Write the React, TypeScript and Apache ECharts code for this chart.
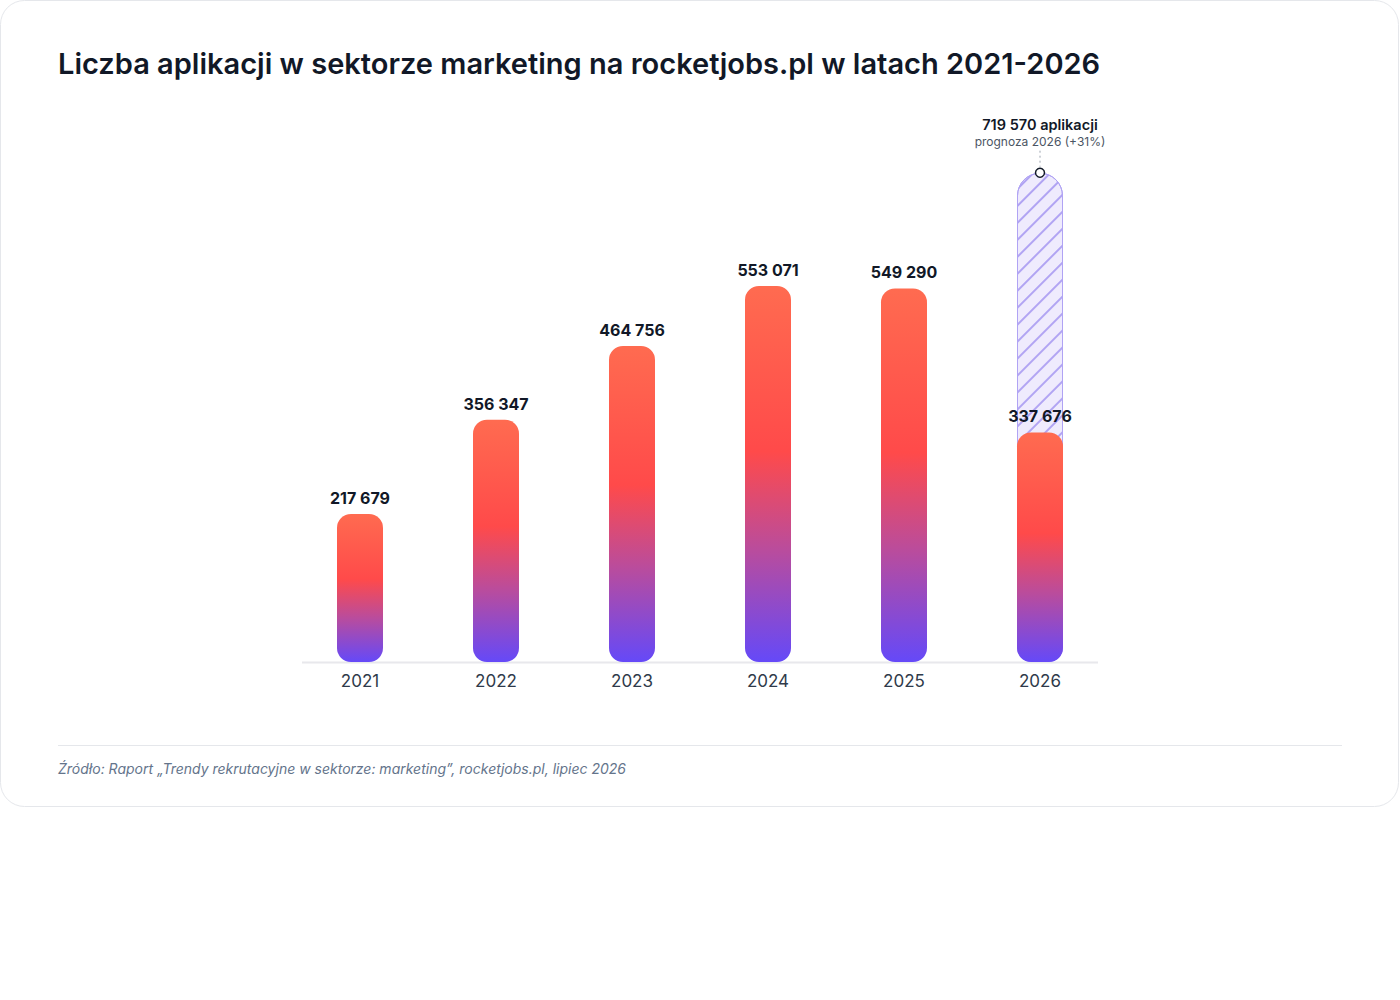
import React, { useEffect, useRef } from "react";
import * as echarts from "echarts";

const years = ["2021", "2022", "2023", "2024", "2025", "2026"];
const applications = [217679, 356347, 464756, 553071, 549290, 337676];
const forecast = [null, null, null, null, null, 719570];
const forecastIndex = 5;
const forecastValue = 719570;
const forecastLabel = "719 570 aplikacji";
const forecastNote = "prognoza 2026 (+31%)";
const titleText = "Liczba aplikacji w sektorze marketing na rocketjobs.pl w latach 2021-2026";
const sourceText =
  "Źródło: Raport „Trendy rekrutacyjne w sektorze: marketing”, rocketjobs.pl, lipiec 2026";

const FONT = "Inter, 'Noto Sans', sans-serif";

const fmt = (v: number) => String(v).replace(/\B(?=(\d{3})+(?!\d))/g, " ");

export default function App() {
  const ref = useRef<HTMLDivElement>(null);

  useEffect(() => {
    if (!ref.current) return;
    const chart = echarts.init(ref.current, undefined, { renderer: "svg" });

    const barGradient = new echarts.graphic.LinearGradient(0, 0, 0, 1, [
      { offset: 0, color: "#FF6B50" },
      { offset: 0.44, color: "#FF4A4A" },
      { offset: 0.7, color: "#BA4C9C" },
      { offset: 1, color: "#6549F8" },
    ]);

    chart.setOption({
      animation: false,
      grid: { left: 292, right: 292, top: 118, bottom: 338, containLabel: false },
      xAxis: {
        type: "category",
        data: years,
        axisLine: { show: false },
        axisTick: { show: false },
        axisLabel: {
          fontSize: 17,
          color: "#2F3A4A",
          fontFamily: FONT,
          margin: 10,
        },
      },
      yAxis: {
        type: "value",
        min: 0,
        max: 800000,
        show: false,
        splitLine: { show: false },
      },
      series: [
        {
          type: "bar",
          data: forecast,
          barWidth: 46,
          barGap: "-100%",
          z: 1,
          itemStyle: {
            color: "#EFEBFD",
            borderColor: "#B0A3F4",
            borderWidth: 1,
            borderRadius: [23, 23, 14, 14],
            decal: {
              symbol: "rect",
              symbolSize: 1,
              color: "#B1A4F3",
              dashArrayX: [1, 0],
              dashArrayY: [1.2, 9.5],
              rotation: -Math.PI / 4,
            },
          },
          silent: true,
        },
        {
          type: "bar",
          data: applications,
          barWidth: 46,
          barGap: "-100%",
          z: 3,
          itemStyle: {
            color: barGradient,
            borderRadius: 14,
          },
          label: {
            show: true,
            position: "top",
            distance: 8,
            fontSize: 16,
            fontWeight: 700,
            fontFamily: FONT,
            color: "#111827",
            formatter: (p: any) => fmt(p.value),
          },
        },
        {
          type: "scatter",
          data: forecast,
          symbol: "circle",
          symbolSize: 9,
          z: 5,
          itemStyle: {
            color: "#ffffff",
            borderColor: "#111827",
            borderWidth: 1.5,
            opacity: 1,
          },
        },
      ],
    });

    const [fx, fy] = chart.convertToPixel({ xAxisIndex: 0, yAxisIndex: 0 }, [
      years[forecastIndex],
      forecastValue,
    ]) as number[];
    const [x0, y0] = chart.convertToPixel({ xAxisIndex: 0, yAxisIndex: 0 }, [
      years[0],
      0,
    ]) as number[];
    const [x5] = chart.convertToPixel({ xAxisIndex: 0, yAxisIndex: 0 }, [
      years[years.length - 1],
      0,
    ]) as number[];

    chart.setOption({
      graphic: [
        {
          type: "rect",
          id: "card",
          z: -10,
          silent: true,
          shape: { x: 0.5, y: 0.5, width: 1398, height: 806, r: 24 },
          style: { fill: "rgba(0,0,0,0)", stroke: "#E5E7EB", lineWidth: 1 },
        },
        {
          type: "text",
          id: "title",
          x: 58,
          y: 63,
          style: {
            text: titleText,
            font: `600 29px ${FONT}`,
            fill: "#111827",
            verticalAlign: "middle",
            align: "left",
          },
        },
        {
          type: "line",
          id: "axisLine",
          z: 0,
          shape: { x1: x0 - 58, y1: y0 + 0.5, x2: x5 + 58, y2: y0 + 0.5 },
          style: { stroke: "#E8E8EC", lineWidth: 2 },
        },
        {
          type: "line",
          id: "dots",
          shape: { x1: fx, y1: fy - 22, x2: fx, y2: fy - 6 },
          style: { stroke: "#9CA3AF", lineWidth: 1, lineDash: [2, 3] },
        },
        {
          type: "text",
          id: "fLabel",
          x: fx,
          y: fy - 48,
          style: {
            text: forecastLabel,
            font: `600 14.5px ${FONT}`,
            fill: "#111827",
            align: "center",
            verticalAlign: "middle",
          },
        },
        {
          type: "text",
          id: "fNote",
          x: fx,
          y: fy - 31,
          style: {
            text: forecastNote,
            font: `400 12px ${FONT}`,
            fill: "#4B5563",
            align: "center",
            verticalAlign: "middle",
          },
        },
        {
          type: "line",
          id: "sep",
          shape: { x1: 58, y1: 745.5, x2: 1342, y2: 745.5 },
          style: { stroke: "#E5E7EB", lineWidth: 1 },
        },
        {
          type: "text",
          id: "source",
          x: 58,
          y: 768,
          style: {
            text: sourceText,
            font: `italic 400 14px ${FONT}`,
            fill: "#64748B",
            align: "left",
            verticalAlign: "middle",
          },
        },
      ],
    });

    return () => chart.dispose();
  }, []);

  return (
    <div
      ref={ref}
      style={{ position: "absolute", left: 0, top: 0, width: 1400, height: 1000, background: "#fff" }}
    />
  );
}
